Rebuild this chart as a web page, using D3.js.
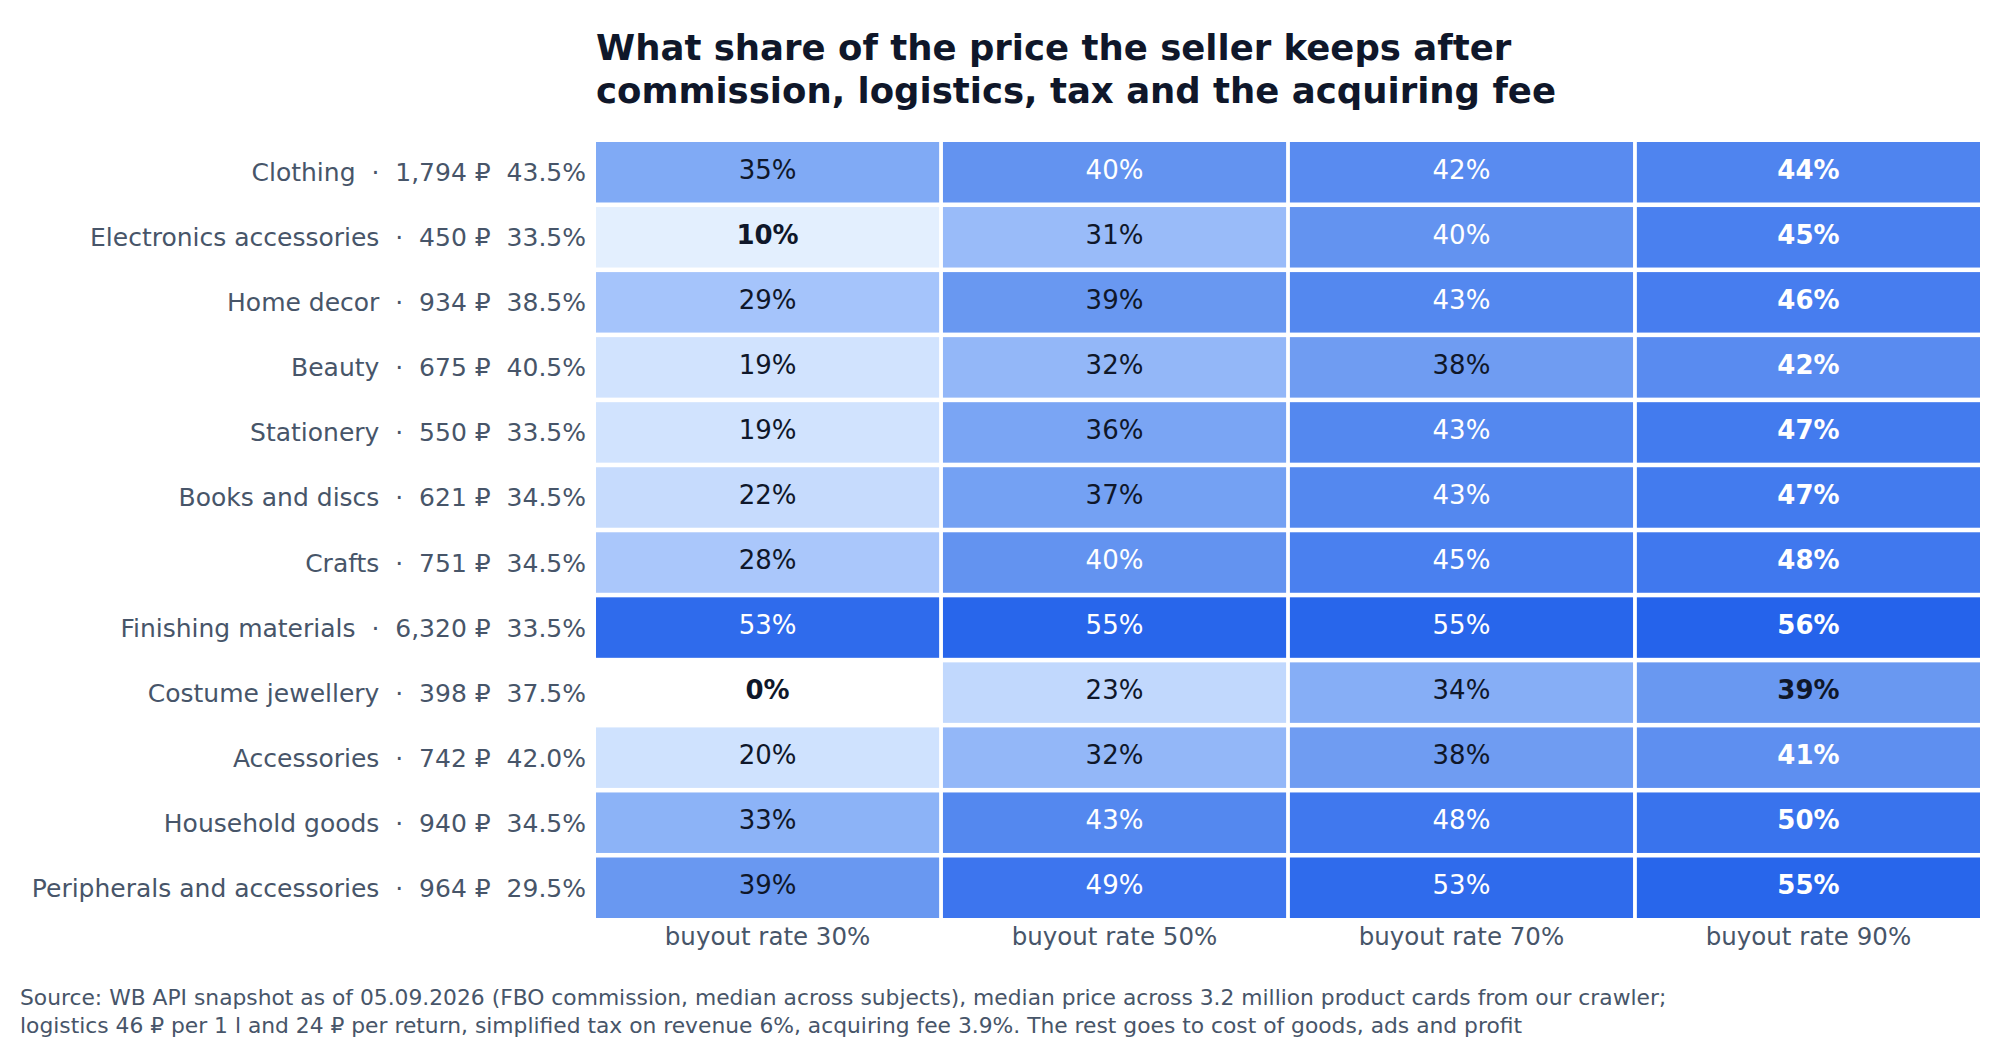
<!DOCTYPE html>
<html>
<head>
<meta charset="utf-8">
<script src="https://cdn.jsdelivr.net/npm/d3@7"></script>
<style>
  body { margin: 0; background: #fff; font-family: "DejaVu Sans", sans-serif; }
</style>
</head>
<body>
<svg id="Heatmap"></svg>
<script>
const categories = ["Clothing", "Electronics accessories", "Home decor", "Beauty", "Stationery",
  "Books and discs", "Crafts", "Finishing materials", "Costume jewellery", "Accessories",
  "Household goods", "Peripherals and accessories"];
const prices = ["1,794", "450", "934", "675", "550", "621", "751", "6,320", "398", "742", "940", "964"];
const commissions = ["43.5%", "33.5%", "38.5%", "40.5%", "33.5%", "34.5%", "34.5%", "33.5%", "37.5%", "42.0%", "34.5%", "29.5%"];
const columns = ["buyout rate 30%", "buyout rate 50%", "buyout rate 70%", "buyout rate 90%"];
const rate30 = [35, 10, 29, 19, 19, 22, 28, 53, 0, 20, 33, 39];
const rate50 = [40, 31, 39, 32, 36, 37, 40, 55, 23, 32, 43, 49];
const rate70 = [42, 40, 43, 38, 43, 43, 45, 55, 34, 38, 48, 53];
const rate90 = [44, 45, 46, 42, 47, 47, 48, 56, 39, 41, 50, 55];

const series = [rate30, rate50, rate70, rate90];
const cells = [];
categories.forEach((c, i) => series.forEach((s, j) => cells.push({ cat: c, col: columns[j], j, value: s[i] })));

const W = 2000, H = 1040;
const margin = { top: 142, right: 20, bottom: 122, left: 596 };
const svg = d3.select("#Heatmap").attr("width", W).attr("height", H);

const x = d3.scaleBand().domain(columns).range([margin.left, W - margin.right]).paddingInner(0.011);
const y = d3.scaleBand().domain(categories).range([margin.top, H - margin.bottom]).paddingInner(0.07);

// blue ramp, lighter at the low end like the reference
const color = d3.scaleLinear()
  .domain([0, 10, 20, 29, 35, 40, 45, 56])
  .range(["#ffffff", "#e3effe", "#cfe2fe", "#a5c4fb", "#80aaf5", "#6393f0", "#4a80ef", "#2563eb"])
  .clamp(true);

// Title
svg.append("text").attr("x", margin.left).attr("y", 60)
  .attr("font-size", 35.5).attr("font-weight", "bold").attr("fill", "#0f172a")
  .selectAll("tspan").data(["What share of the price the seller keeps after",
    "commission, logistics, tax and the acquiring fee"]).enter().append("tspan")
  .attr("x", margin.left).attr("dy", (d, i) => i ? 43 : 0).text(d => d);

// Cells
const g = svg.append("g");
g.selectAll("rect").data(cells).enter().append("rect")
  .attr("x", d => x(d.col)).attr("y", d => y(d.cat))
  .attr("width", x.bandwidth()).attr("height", y.bandwidth())
  .attr("fill", d => color(d.value));

g.selectAll("text").data(cells).enter().append("text")
  .attr("x", d => x(d.col) + x.bandwidth() / 2)
  .attr("y", d => y(d.cat) + y.bandwidth() / 2 - 1)
  .attr("text-anchor", "middle").attr("dominant-baseline", "middle")
  .attr("font-size", 26)
  .attr("font-weight", d => (d.j === 3 || d.value < 15) ? "bold" : "normal")
  .attr("fill", d => d.value >= 40 ? "#ffffff" : "#0f172a")
  .text(d => d.value + "%");

// Row labels
svg.append("g").selectAll("text").data(categories).enter().append("text")
  .attr("x", margin.left - 10)
  .attr("y", d => y(d) + y.bandwidth() / 2 + 2)
  .attr("text-anchor", "end").attr("dominant-baseline", "middle")
  .attr("font-size", 25).attr("fill", "#475569")
  .attr("xml:space", "preserve")
  .text((d, i) => `${d}  ·  ${prices[i]} ₽  ${commissions[i]}`);

// Column labels
svg.append("g").selectAll("text").data(columns).enter().append("text")
  .attr("x", d => x(d) + x.bandwidth() / 2).attr("y", H - margin.bottom + 20)
  .attr("text-anchor", "middle").attr("dominant-baseline", "middle")
  .attr("font-size", 24.5).attr("fill", "#475569").text(d => d);

// Footnote
svg.append("text").attr("font-size", 21.8).attr("fill", "#475569")
  .selectAll("tspan").data([
    "Source: WB API snapshot as of 05.09.2026 (FBO commission, median across subjects), median price across 3.2 million product cards from our crawler;",
    "logistics 46 ₽ per 1 l and 24 ₽ per return, simplified tax on revenue 6%, acquiring fee 3.9%. The rest goes to cost of goods, ads and profit"])
  .enter().append("tspan").attr("x", 20).attr("y", (d, i) => 1005 + i * 28).text(d => d);
</script>
</body>
</html>
